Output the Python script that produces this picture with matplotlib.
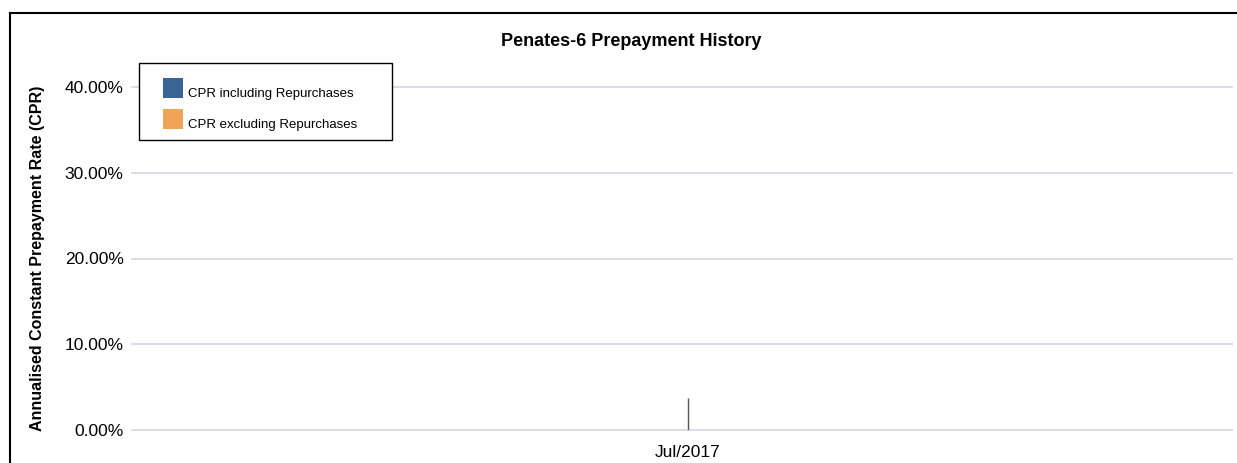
import matplotlib.pyplot as plt
from matplotlib.patches import Rectangle
from matplotlib.lines import Line2D

categories = ['Jul/2017']
cpr_incl = [0.037]
cpr_excl = [0.0]
y_ticks = [0.0, 0.10, 0.20, 0.30, 0.40]
series_names = ['CPR including Repurchases', 'CPR excluding Repurchases']
series_colors = ['#3a6496', '#f0a455']

plt.rcParams['font.family'] = ['Liberation Sans', 'DejaVu Sans']

fig = plt.figure(figsize=(12.37, 4.63), dpi=100)
W, H = 1237, 463
ax = fig.add_axes([132 / W, 33 / H, 1100 / W, (430 - 87) / H])

x = list(range(len(categories)))
# bars are so narrow they show up as a single thin line
ax.bar(x, cpr_incl, width=0.0, edgecolor='#555555', linewidth=1, color=series_colors[0], zorder=3)
ax.bar(x, cpr_excl, width=0.0, edgecolor='#555555', linewidth=1, color=series_colors[1], zorder=3)

ax.set_xlim(-0.505, 0.495)
ax.set_ylim(0, 0.4)
ax.set_yticks(y_ticks)
ax.set_yticklabels([f'{v * 100:.2f}%' for v in y_ticks], fontsize=12.5)
ax.set_xticks(x)
ax.set_xticklabels(categories, fontsize=12.5)
ax.tick_params(axis='y', length=0, pad=6)
ax.tick_params(axis='x', length=0, pad=11)
ax.grid(axis='y', color='#d9d9e6', linewidth=1.3)
ax.set_axisbelow(True)
for s in ax.spines.values():
    s.set_visible(False)
for gl in ax.get_ygridlines():
    gl.set_clip_on(False)

ax.set_ylabel('Annualised Constant Prepayment Rate (CPR)', fontsize=11.5, fontweight='bold', labelpad=14)
fig.text(631 / W, 1 - 41 / H, 'Penates-6 Prepayment History', fontsize=13, fontweight='bold',
         ha='center', va='center')

# legend box drawn by hand to match the boxed key of the original
fig.add_artist(Rectangle((139 / W, 1 - 140 / H), 253 / W, 77 / H, transform=fig.transFigure,
                         facecolor='white', edgecolor='black', linewidth=1, zorder=5))
for i, (name, col) in enumerate(zip(series_names, series_colors)):
    top = 78 + 31 * i
    fig.add_artist(Rectangle((163 / W, 1 - (top + 20) / H), 20 / W, 20 / H, transform=fig.transFigure,
                             facecolor=col, edgecolor='none', zorder=6))
    fig.text(188 / W, 1 - (top + 16) / H, name, fontsize=9.5, ha='left', va='center', zorder=7)

# outer frame of the panel (cropped on right and bottom)
fig.add_artist(Line2D([10 / W, 1], [1 - 13 / H, 1 - 13 / H], color='black', linewidth=1.5))
fig.add_artist(Line2D([10 / W, 10 / W], [0, 1 - 13 / H], color='black', linewidth=1.5))

fig.savefig('out.png', dpi=100)
